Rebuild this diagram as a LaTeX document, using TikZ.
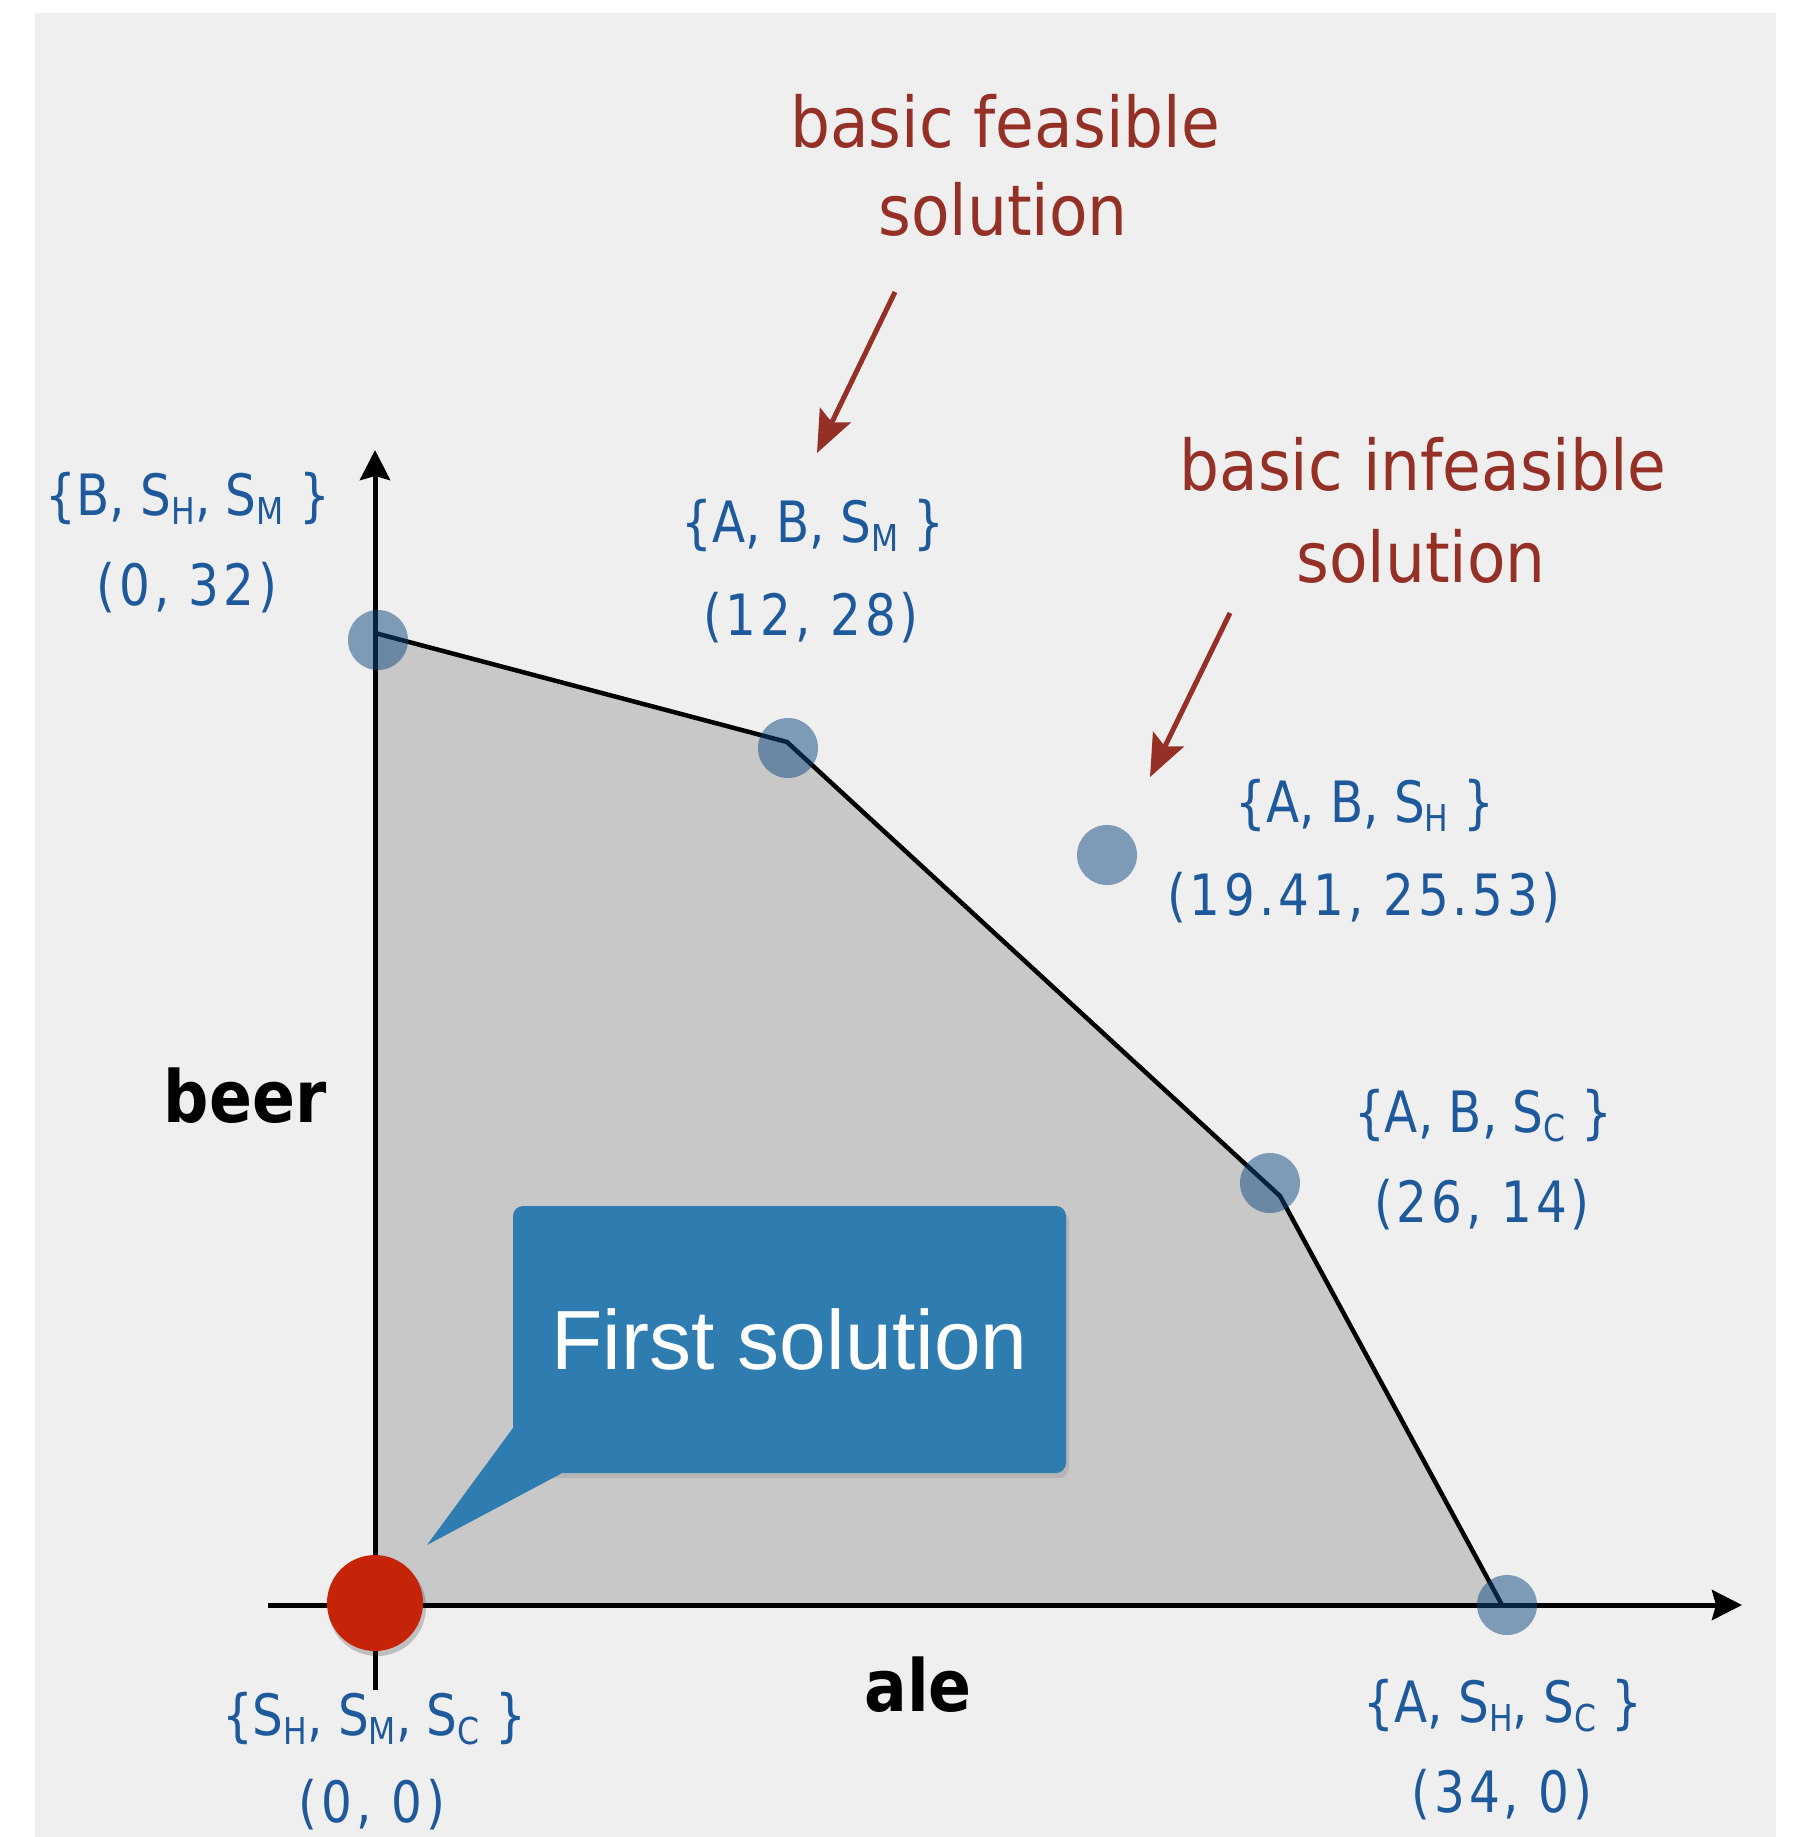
\documentclass[tikz,border=0pt]{standalone}
\usepackage{fontspec}
\setmainfont{DejaVu Sans}
\newfontfamily\lblfont{DejaVu Sans}[FakeStretch=0.85]
\newfontfamily\numfont{DejaVu Sans}[FakeStretch=0.85, LetterSpace=7]
\newfontfamily\annfont{DejaVu Sans}[FakeStretch=0.9]
\newfontfamily\axfont{DejaVu Sans}[FakeStretch=0.88]
\newfontfamily\calloutfont{Liberation Sans}
\usetikzlibrary{arrows.meta,calc,shadows}
\definecolor{bgcol}{RGB}{239,239,239}
\definecolor{polycol}{RGB}{200,200,200}
\definecolor{labblue}{RGB}{30,90,155}
\definecolor{dotblue}{RGB}{13,71,127}
\definecolor{annred}{RGB}{148,48,38}
\definecolor{startred}{RGB}{198,36,8}
\definecolor{callblue}{RGB}{47,125,176}
\newcommand\sbs[1]{\raisebox{-9pt}{\fontsize{37}{37}\selectfont #1}}
\begin{document}
\begin{tikzpicture}[x=1pt,y=-1pt,
  lbl/.style={text=labblue, font=\lblfont\fontsize{57}{60}\selectfont, anchor=base, inner sep=0pt},
  lblnum/.style={text=labblue, font=\numfont\fontsize{57}{60}\selectfont, anchor=base, inner sep=0pt},
  ann/.style={text=annred, font=\annfont\fontsize{70}{84}\selectfont, anchor=base, inner sep=0pt},
  axlbl/.style={font=\axfont\bfseries\fontsize{72}{80}\selectfont, anchor=base, inner sep=0pt},
  vdot/.style={circle, fill=dotblue, fill opacity=0.5, minimum size=60pt, inner sep=0pt},
  startdot/.style={circle, fill=startred, minimum size=96pt, inner sep=0pt},
  axisline/.style={line width=5pt, -{Stealth[length=30pt,width=30pt,inset=4pt]}},
  annarrow/.style={draw=annred, line width=5pt, -{Stealth[length=42pt,width=34pt,inset=8pt]}},
  callbox/.style={fill=callblue, rounded corners=10pt, minimum width=553pt, minimum height=267pt,
    text=white, font=\calloutfont\fontsize{84}{90}\selectfont, inner sep=0pt,
    drop shadow={opacity=0.25, shadow xshift=3pt, shadow yshift=-5pt}},
]
\useasboundingbox (0,0) rectangle (1793,1837);
\fill[bgcol] (35,13) rectangle (1776,1837);

% feasible region
\coordinate (O) at (375,1605);
\coordinate (P1) at (375,633);
\coordinate (P2) at (787,742);
\coordinate (P3) at (1280,1196);
\coordinate (P4) at (1502,1605);
\fill[polycol] (O) -- (P1) -- (P2) -- (P3) -- (P4) -- cycle;
\draw[line width=4.5pt, line join=round] (P1) -- (P2) -- (P3) -- (P4);

% axes
\coordinate (xs) at (268,1605);
\coordinate (xe) at (1742,1605);
\coordinate (ys) at (375,1690);
\coordinate (ye) at (375,450);
\draw[axisline] (xs) -- (xe);
\draw[axisline] (ys) -- (ye);

% vertices
\node[vdot] (d1) at (378,640) {};
\node[vdot] (d2) at (788,748) {};
\node[vdot] (d3) at (1107,855) {};
\node[vdot] (d4) at (1270,1183) {};
\node[vdot] (d5) at (1507,1605) {};
\fill[black, opacity=0.2] (377,1607) circle (49);
\node[startdot] (d0) at (375,1603) {};

% vertex labels
\node[lbl] (l1a) at (188,515) {\{B, S\sbs{H}, S\sbs{M} \}};
\node[lblnum] (l1b) at (187,605) {(0, 32)};
\node[lbl] (l2a) at (813,542) {\{A, B, S\sbs{M} \}};
\node[lblnum] (l2b) at (811,635) {(12, 28)};
\node[lbl] (l3a) at (1365,822) {\{A, B, S\sbs{H} \}};
\node[lblnum] (l3b) at (1364,915) {(19.41, 25.53)};
\node[lbl] (l4a) at (1483,1132) {\{A, B, S\sbs{C} \}};
\node[lblnum] (l4b) at (1482,1222) {(26, 14)};
\node[lbl] (l5a) at (1503,1722) {\{A, S\sbs{H}, S\sbs{C} \}};
\node[lblnum] (l5b) at (1502,1812) {(34, 0)};
\node[lbl] (l0a) at (374,1735) {\{S\sbs{H}, S\sbs{M}, S\sbs{C} \}};
\node[lblnum] (l0b) at (372,1822) {(0, 0)};

% axis labels
\node[axlbl] (beer) at (245,1122) {beer};
\node[axlbl] (ale) at (918,1711) {ale};

% annotations
\node[ann] (f1) at (1005,147) {basic feasible};
\node[ann] (f2) at (1003,235) {solution};
\node[ann] (i1) at (1423,490) {basic infeasible};
\node[ann] (i2) at (1421,582) {solution};
\coordinate (fa) at (895,292);
\coordinate (fb) at (817,453);
\coordinate (ia) at (1230,613);
\coordinate (ib) at (1150,777);
\draw[annarrow] (fa) -- (fb);
\draw[annarrow] (ia) -- (ib);

% callout
\node[callbox] (callout) at (789.5,1339.5) {First solution};
\coordinate (tailtip) at (427,1545);
\fill[callblue] ($(callout.south west)+(0,-45)$) -- (tailtip) -- ($(callout.south west)+(49,0)$) -- cycle;
\end{tikzpicture}
\end{document}
